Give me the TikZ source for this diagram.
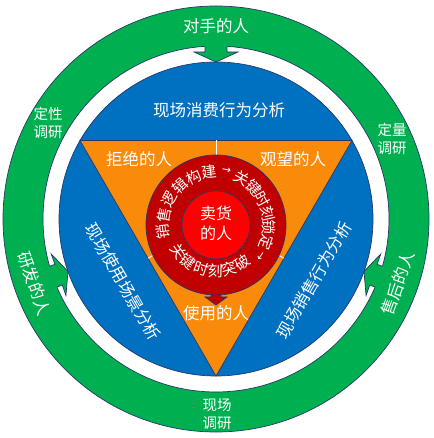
\documentclass[tikz,border=0pt]{standalone}
\usepackage{fontspec}
\setmainfont{Noto Sans CJK SC}
\newfontfamily\dejavu{DejaVu Sans}
\usetikzlibrary{calc}
\definecolor{gr}{HTML}{00B050}
\definecolor{bl}{HTML}{0070C0}
\definecolor{orng}{RGB}{250,138,10}
\definecolor{dred}{HTML}{C00000}
\definecolor{brred}{HTML}{FF0000}
\definecolor{edge}{HTML}{25386A}
\begin{document}
\begin{tikzpicture}[x=1pt,y=1pt,
  outl/.style={draw=edge, line width=0.7pt},
  wtext/.style={text=white, inner sep=0pt, align=center},
  big/.style={wtext, font=\fontsize{16.5}{18}\selectfont},
  mid/.style={wtext, font=\fontsize{14.5}{18}\selectfont},
  ringtxt/.style={wtext, font=\fontsize{15}{15}\selectfont},
  sep/.style={draw=white, line width=0.8pt}]
\useasboundingbox (0,0) rectangle (433,438);
\coordinate (C) at (216,219);
\coordinate (R) at (216,213);
% green ring
\path[fill=gr, outl, even odd rule] (C) circle[radius=213] (C) circle[radius=173];
% green arrows
\foreach \a in {90,199.5,340.5}{
  \begin{scope}[shift={(C)}, rotate=\a-90]
    \fill[gr] (-11,176) -- (-11,167) -- (-22,167) -- (0,157) -- (22,167) -- (11,167) -- (11,176) -- cycle;
    \draw[outl] (-11,172.6) -- (-11,167) -- (-22,167) -- (0,157) -- (22,167) -- (11,167) -- (11,172.6);
  \end{scope}}
% blue disc
\path[fill=bl, outl] (C) circle[radius=157];
% triangle
\coordinate (T1) at ($(C)+(150:157)$);
\coordinate (T2) at ($(C)+(30:157)$);
\coordinate (T3) at ($(C)+(270:157)$);
\path[fill=orng, outl] (T1) -- (T2) -- (T3) -- cycle;
\coordinate (M1) at ($(T1)!0.5!(T2)$);
\coordinate (M2) at ($(T1)!0.5!(T3)$);
\coordinate (M3) at ($(T2)!0.5!(T3)$);
\draw[sep] (C) -- (M1);
\draw[sep] (C) -- (M2);
\draw[sep] (C) -- (M3);
% red arrow + ring
\path[fill=dred, outl] (211,150) -- (211,141) -- (205,141) -- (216,133) -- (227,141) -- (221,141) -- (221,150) -- cycle;
\path[fill=dred, outl] (R) circle[radius=70];
\path[fill=brred, outl] (R) circle[radius=34];
\node[big, font=\fontsize{16}{20}\selectfont] (core) at (216,214.5) {卖货\\的人};
% ring texts
\foreach \ch/\a [count=\i, evaluate=\a as \r using \a-90] in {销/187,售/169,逻/151,辑/133,构/115,建/97,关/61,键/45,时/29,刻/13,锁/-3,定/-19}
  \node[ringtxt, rotate=\r] (up\i) at ($(R)+(\a:53)$) {\ch};
\foreach \ch/\a [count=\i, evaluate=\a as \r using \a+90] in {关/215,键/233,时/251,刻/269,突/287,破/305}
  \node[ringtxt, rotate=\r] (lo\i) at ($(R)+(\a:46)$) {\ch};
\node[wtext, font=\dejavu\fontsize{11}{11}\selectfont, rotate=-11] (ar1) at ($(R)+(79:55)$) {→};
\node[wtext, font=\dejavu\fontsize{11}{11}\selectfont, rotate=-125] (ar2) at ($(R)+(-35:54)$) {→};
% orange texts
\node[big] (o1) at (139,279) {拒绝的人};
\node[big] (o2) at (293,279) {观望的人};
\node[big] (o3) at (216,125) {使用的人};
% blue texts
\node[big] (b1) at (219,328) {现场消费行为分析};
\node[big, rotate=-60] (b2) at (123,156) {现场使用场景分析};
\node[big, rotate=60] (b3) at (314,158) {现场销售行为分析};
% green texts
\node[big] (g1) at (216,412) {对手的人};
\node[big, rotate=-70.5] (g2) at ($(C)+(199.5:193)$) {研发的人};
\node[big, rotate=70.5] (g3) at ($(C)+(-19.5:193)$) {售后的人};
\node[mid] (g4) at (48,315.5) {定性\\调研};
\node[mid] (g5) at (392,299.5) {定量\\调研};
\node[mid] (g6) at (217,24) {现场\\调研};
\end{tikzpicture}
\end{document}
